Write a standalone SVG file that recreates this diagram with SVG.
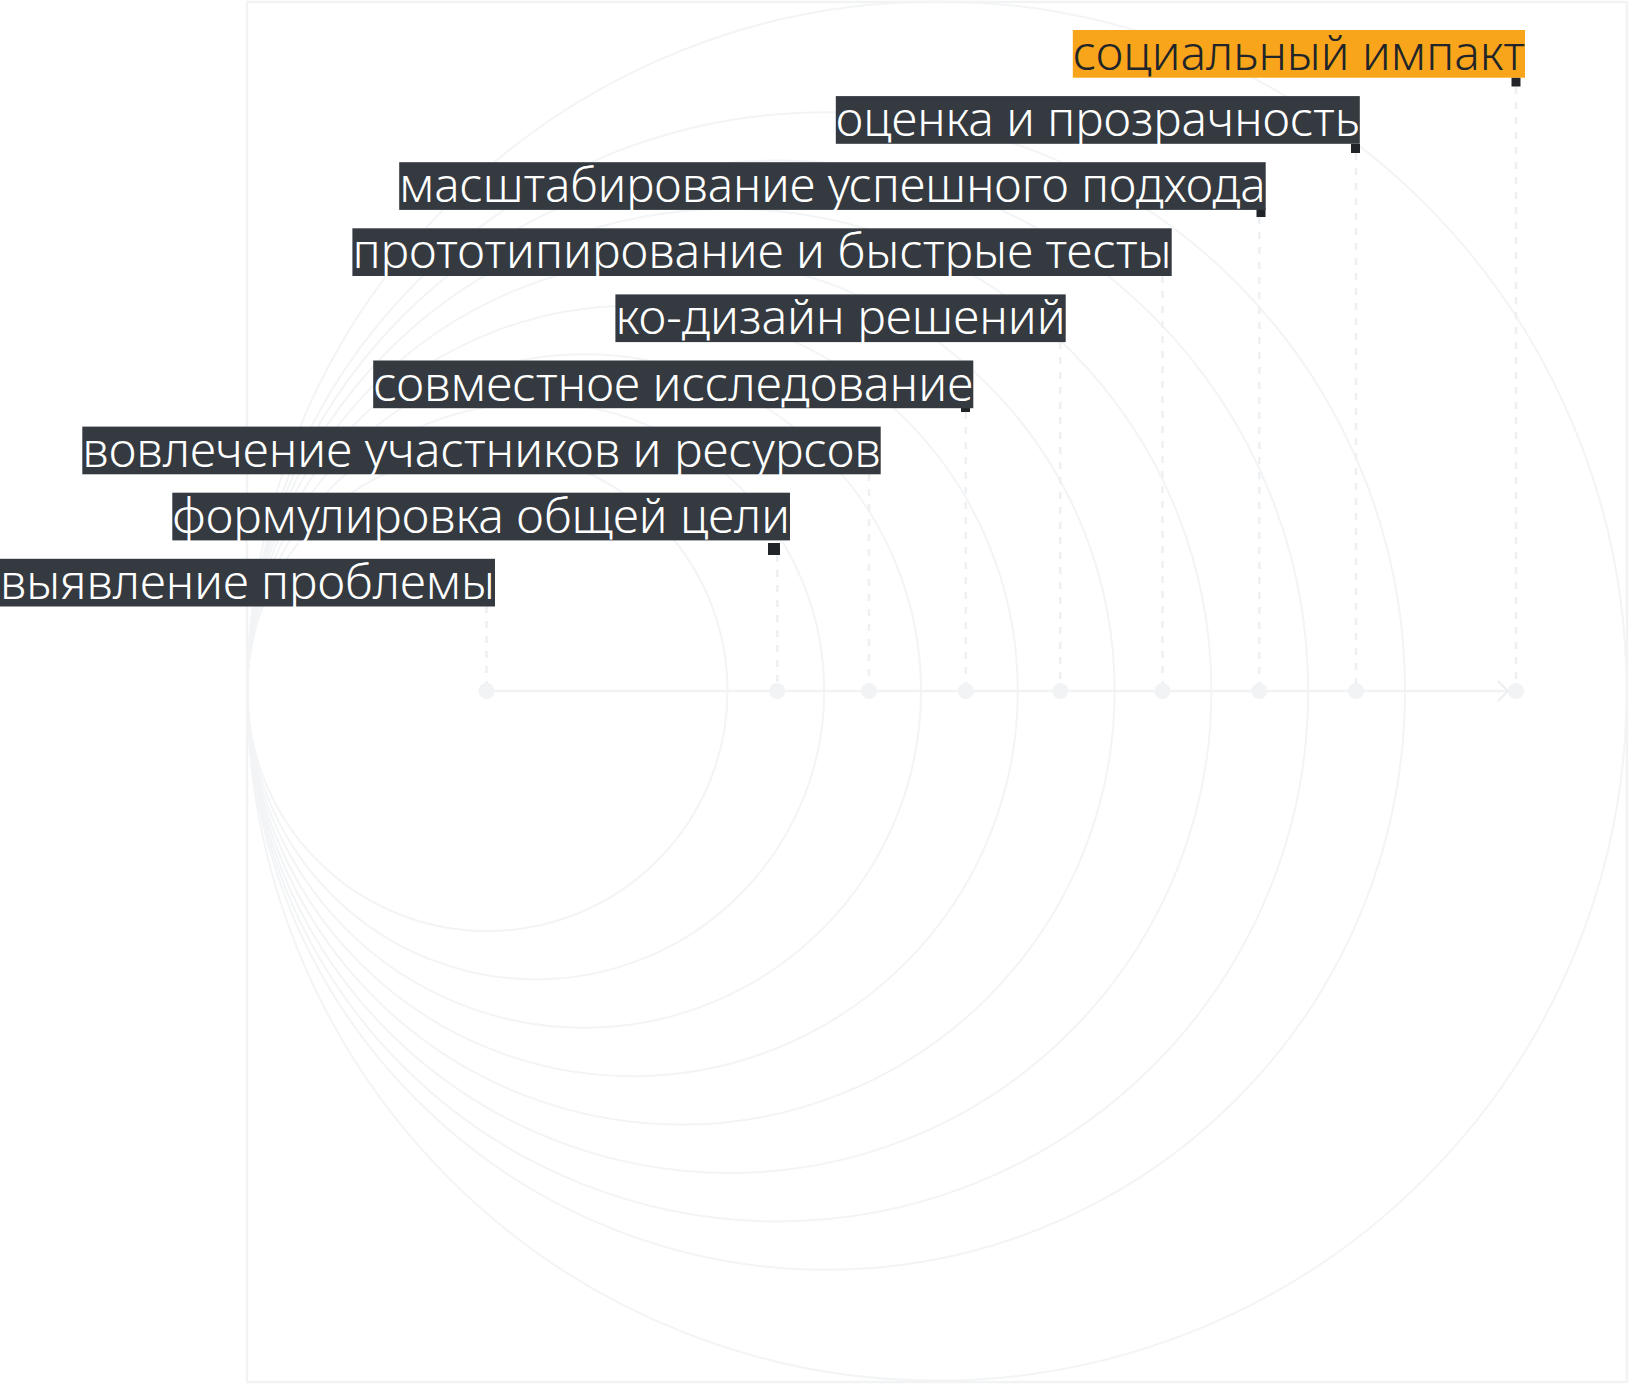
<svg xmlns="http://www.w3.org/2000/svg" width="1630" height="1384" viewBox="0 0 1630 1384">
  <defs>
    <style>
      .frame { fill: none; stroke: #f1f3f5; stroke-width: 2.5; }
      .ring { fill: none; stroke: #f2f4f6; stroke-width: 2; }
      .axis { fill: none; stroke: #f1f3f5; stroke-width: 2.5; }
      .dash { fill: none; stroke: #eef0f2; stroke-width: 2.5; stroke-dasharray: 7 8; }
      .dot { fill: #f1f3f5; }
      .box { fill: #343a40; }
      .box-hi { fill: #f9a51b; }
      .pin { fill: #212529; }
      .lbl { font-family: "Noto Sans", "Open Sans", "Liberation Sans", sans-serif; font-size: 47px; font-weight: 300; fill: #ffffff; }
      .lbl-hi { fill: #212529; }
    </style>
    <marker id="chev" viewBox="0 0 12 22" refX="11" refY="11" markerWidth="12" markerHeight="22" markerUnits="userSpaceOnUse" orient="auto">
      <path d="M1,1 L11,11 L1,21" fill="none" stroke="#eceef0" stroke-width="2"/>
    </marker>
  </defs>

  <g id="background">
    <rect class="frame" x="247" y="2" width="1380" height="1380"/>
    <circle class="ring" cx="487.4" cy="691" r="240.1"/>
    <circle class="ring" cx="535.8" cy="691" r="288.4"/>
    <circle class="ring" cx="584.2" cy="691" r="336.8"/>
    <circle class="ring" cx="632.6" cy="691" r="385.2"/>
    <circle class="ring" cx="681" cy="691" r="433.6"/>
    <circle class="ring" cx="729.4" cy="691" r="482"/>
    <circle class="ring" cx="777.8" cy="691" r="530.4"/>
    <circle class="ring" cx="826.2" cy="691" r="578.8"/>
    <circle class="ring" cx="937" cy="691" r="689.6"/>
  </g>

  <g id="connectors">
    <line class="axis" x1="486.5" y1="691" x2="1508" y2="691" marker-end="url(#chev)"/>
    <line class="dash" x1="486.5" y1="606" x2="486.5" y2="684"/>
    <line class="dash" x1="777.3" y1="555" x2="777.3" y2="684"/>
    <line class="dash" x1="869" y1="474" x2="869" y2="684"/>
    <line class="dash" x1="965.8" y1="412" x2="965.8" y2="684"/>
    <line class="dash" x1="1060.3" y1="342" x2="1060.3" y2="684"/>
    <line class="dash" x1="1162.5" y1="276" x2="1162.5" y2="684"/>
    <line class="dash" x1="1259.3" y1="217" x2="1259.3" y2="684"/>
    <line class="dash" x1="1356" y1="153" x2="1356" y2="684"/>
    <line class="dash" x1="1516" y1="87" x2="1516" y2="684"/>
  </g>

  <g id="ticks">
    <circle class="dot" cx="486.5" cy="691" r="8"/>
    <circle class="dot" cx="777.3" cy="691" r="8"/>
    <circle class="dot" cx="869" cy="691" r="8"/>
    <circle class="dot" cx="965.8" cy="691" r="8"/>
    <circle class="dot" cx="1060.3" cy="691" r="8"/>
    <circle class="dot" cx="1162.5" cy="691" r="8"/>
    <circle class="dot" cx="1259.3" cy="691" r="8"/>
    <circle class="dot" cx="1356" cy="691" r="8"/>
    <circle class="dot" cx="1516" cy="691" r="8"/>
  </g>

  <g id="node-9">
    <rect class="box" x="0" y="558.8" width="495" height="47.7"/>
    <text class="lbl" x="0" y="598.8" textLength="495" lengthAdjust="spacingAndGlyphs">выявление проблемы</text>
  </g>

  <g id="node-8">
    <rect class="pin" x="768" y="543" width="12" height="12"/>
    <rect class="box" x="172.3" y="492.7" width="617.7" height="47.7"/>
    <text class="lbl" x="172.3" y="532.7" textLength="617.7" lengthAdjust="spacingAndGlyphs">формулировка общей цели</text>
  </g>

  <g id="node-7">
    <rect class="box" x="82.3" y="426.6" width="798.4" height="47.7"/>
    <text class="lbl" x="82.3" y="466.6" textLength="798.4" lengthAdjust="spacingAndGlyphs">вовлечение участников и ресурсов</text>
  </g>

  <g id="node-6">
    <rect class="pin" x="961" y="403" width="9" height="9"/>
    <rect class="box" x="373.2" y="360.5" width="600.1" height="47.7"/>
    <text class="lbl" x="373.2" y="400.5" textLength="600.1" lengthAdjust="spacingAndGlyphs">совместное исследование</text>
  </g>

  <g id="node-5">
    <rect class="box" x="615.4" y="294.4" width="450.3" height="47.7"/>
    <text class="lbl" x="615.4" y="334.4" textLength="450.3" lengthAdjust="spacingAndGlyphs">ко-дизайн решений</text>
  </g>

  <g id="node-4">
    <rect class="box" x="352.4" y="228.3" width="819.3" height="47.7"/>
    <text class="lbl" x="352.4" y="268.3" textLength="819.3" lengthAdjust="spacingAndGlyphs">прототипирование и быстрые тесты</text>
  </g>

  <g id="node-3">
    <rect class="pin" x="1256.5" y="208" width="9" height="9"/>
    <rect class="box" x="399.2" y="162.2" width="866.5" height="47.7"/>
    <text class="lbl" x="399.2" y="202.2" textLength="866.5" lengthAdjust="spacingAndGlyphs">масштабирование успешного подхода</text>
  </g>

  <g id="node-2">
    <rect class="pin" x="1351" y="144" width="9" height="9"/>
    <rect class="box" x="835.8" y="96.1" width="524" height="47.7"/>
    <text class="lbl" x="835.8" y="136.1" textLength="524" lengthAdjust="spacingAndGlyphs">оценка и прозрачность</text>
  </g>

  <g id="node-1">
    <rect class="pin" x="1511.5" y="77.5" width="9" height="9"/>
    <rect class="box-hi" x="1072.8" y="30" width="452.2" height="47.7"/>
    <text class="lbl lbl-hi" x="1072.8" y="70" textLength="452.2" lengthAdjust="spacingAndGlyphs">социальный импакт</text>
  </g>
</svg>
